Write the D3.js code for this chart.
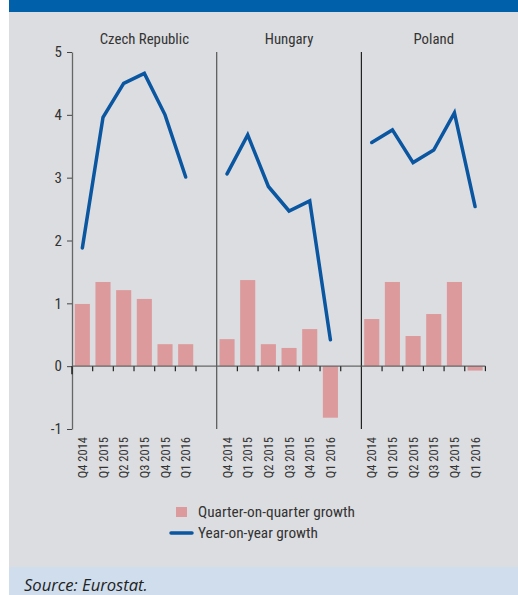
<!DOCTYPE html>
<html>
<head>
<meta charset="utf-8">
<script src="https://cdn.jsdelivr.net/npm/d3@7"></script>
<style>
  body { margin: 0; background: #fff; }
  svg text { font-family: "Roboto Condensed", "Liberation Sans Narrow", "Roboto", sans-serif; fill: #333; }
</style>
</head>
<body>
<div class="canvas"></div>
<script>
const countries = ['Czech Republic', 'Hungary', 'Poland'];
const quarters = ['Q4 2014', 'Q1 2015', 'Q2 2015', 'Q3 2015', 'Q4 2015', 'Q1 2016'];
const yTicks = [-1, 0, 1, 2, 3, 4, 5];

// quarter-on-quarter growth (bars)
const qoqCzech = [0.99, 1.34, 1.21, 1.07, 0.35, 0.35];
const qoqHungary = [0.43, 1.37, 0.35, 0.29, 0.59, -0.82];
const qoqPoland = [0.75, 1.34, 0.48, 0.83, 1.34, -0.07];

// year-on-year growth (line)
const yoyCzech = [1.88, 3.96, 4.50, 4.66, 4.00, 3.01];
const yoyHungary = [3.06, 3.68, 2.86, 2.47, 2.63, 0.42];
const yoyPoland = [3.56, 3.76, 3.24, 3.44, 4.03, 2.54];

const qoq = [qoqCzech, qoqHungary, qoqPoland];
const yoy = [yoyCzech, yoyHungary, yoyPoland];

const W = 518, H = 595;
const plot = { left: 72, top: 52, bottom: 429, panel: 144.7 };

const svg = d3.select('.canvas')
  .append('svg')
  .attr('width', W)
  .attr('height', H);

// frame
svg.append('rect').attr('x', 9).attr('y', 0).attr('width', W - 9).attr('height', H).attr('fill', '#dcdde0');
svg.append('rect').attr('x', 9).attr('y', 0).attr('width', W - 9).attr('height', 12).attr('fill', '#0060a9');
svg.append('rect').attr('x', 9).attr('y', 567).attr('width', W - 9).attr('height', H - 567).attr('fill', '#cfdded');
svg.append('text')
  .attr('x', 24).attr('y', 591)
  .style('font-family', '"Open Sans", sans-serif')
  .style('font-style', 'italic')
  .style('font-size', '16.6px')
  .style('fill', '#222')
  .text('Source: Eurostat.');

const y = d3.scaleLinear().domain([-1, 5]).range([plot.bottom, plot.top]);

// y axis
const yAxis = svg.append('g')
  .attr('transform', `translate(${plot.left},0)`)
  .call(d3.axisLeft(y).tickValues(yTicks).tickSize(5).tickPadding(5).tickSizeOuter(0)
    .tickFormat(d => d < 0 ? '-' + Math.abs(d) : String(d)));
yAxis.select('.domain').attr('stroke', '#666').attr('stroke-width', 1.3);
yAxis.selectAll('.tick line').attr('stroke', '#444');
yAxis.selectAll('.tick text').style('font-size', '15px').attr('fill', '#333')
  .style('font-family', '"Roboto Condensed", "Liberation Sans Narrow", Roboto, sans-serif');

countries.forEach((name, p) => {
  const x0 = plot.left + p * plot.panel;
  const x = d3.scaleBand()
    .domain(quarters.concat(['_']))
    .range([x0, x0 + plot.panel])
    .paddingInner(0.27)
    .paddingOuter(0.135);
  const step = x.step();
  const g = svg.append('g');

  // divider
  if (p > 0) {
    g.append('line')
      .attr('x1', x0).attr('x2', x0)
      .attr('y1', y(5)).attr('y2', y(-1))
      .attr('stroke', p === 1 ? '#555' : '#222').attr('stroke-width', 1.2);
  }

  // title
  g.append('text')
    .attr('x', x0 + plot.panel / 2).attr('y', 44)
    .attr('text-anchor', 'middle')
    .style('font-size', '14.8px')
    .text(name);

  // bars
  g.selectAll('rect.bar')
    .data(qoq[p])
    .enter().append('rect')
    .attr('class', 'bar')
    .attr('x', (d, i) => x(quarters[i]))
    .attr('width', x.bandwidth())
    .attr('y', d => y(Math.max(0, d)))
    .attr('height', d => Math.abs(y(d) - y(0)))
    .attr('fill', '#dc9a9c');

  // zero line
  const xEnd = p === 2 ? x0 + step * 6 : x0 + plot.panel;
  g.append('line')
    .attr('x1', x0).attr('x2', xEnd)
    .attr('y1', y(0)).attr('y2', y(0))
    .attr('stroke', '#666').attr('stroke-width', 1.3);

  // category ticks
  g.selectAll('line.tk')
    .data(d3.range(1, 7))
    .enter().append('line')
    .attr('class', 'tk')
    .attr('x1', i => x0 + i * step).attr('x2', i => x0 + i * step)
    .attr('y1', y(0)).attr('y2', y(0) + 5)
    .attr('stroke', '#222').attr('stroke-width', 1.2);

  // tick labels
  g.selectAll('text.ql')
    .data(quarters)
    .enter().append('text')
    .attr('class', 'ql')
    .attr('transform', d => `translate(${x(d) + x.bandwidth() / 2 + 4.5},437) rotate(-90)`)
    .attr('text-anchor', 'end')
    .style('font-size', '12.5px')
    .text(d => d);

  // yoy line
  const line = d3.line()
    .x((d, i) => x(quarters[i]) + x.bandwidth() / 2)
    .y(d => y(d));
  g.append('path')
    .datum(yoy[p])
    .attr('d', line)
    .attr('fill', 'none')
    .attr('stroke', '#0a56a0')
    .attr('stroke-width', 3.5)
    .attr('stroke-linejoin', 'miter')
    .attr('stroke-linecap', 'round');
});

// small tick under axis at origin
svg.append('line')
  .attr('x1', plot.left).attr('x2', plot.left)
  .attr('y1', y(0)).attr('y2', y(0) + 8)
  .attr('stroke', '#222').attr('stroke-width', 1.5);

// legend
const legend = svg.append('g');
legend.append('rect').attr('x', 176).attr('y', 507).attr('width', 11).attr('height', 10).attr('fill', '#dc9a9c');
legend.append('text').attr('x', 198).attr('y', 517).style('font-size', '15.3px').text('Quarter-on-quarter growth');
legend.append('line').attr('x1', 171).attr('x2', 192).attr('y1', 533).attr('y2', 533)
  .attr('stroke', '#0a56a0').attr('stroke-width', 3.5).attr('stroke-linecap', 'round');
legend.append('text').attr('x', 198).attr('y', 538).style('font-size', '15.3px').text('Year-on-year growth');
</script>
</body>
</html>
